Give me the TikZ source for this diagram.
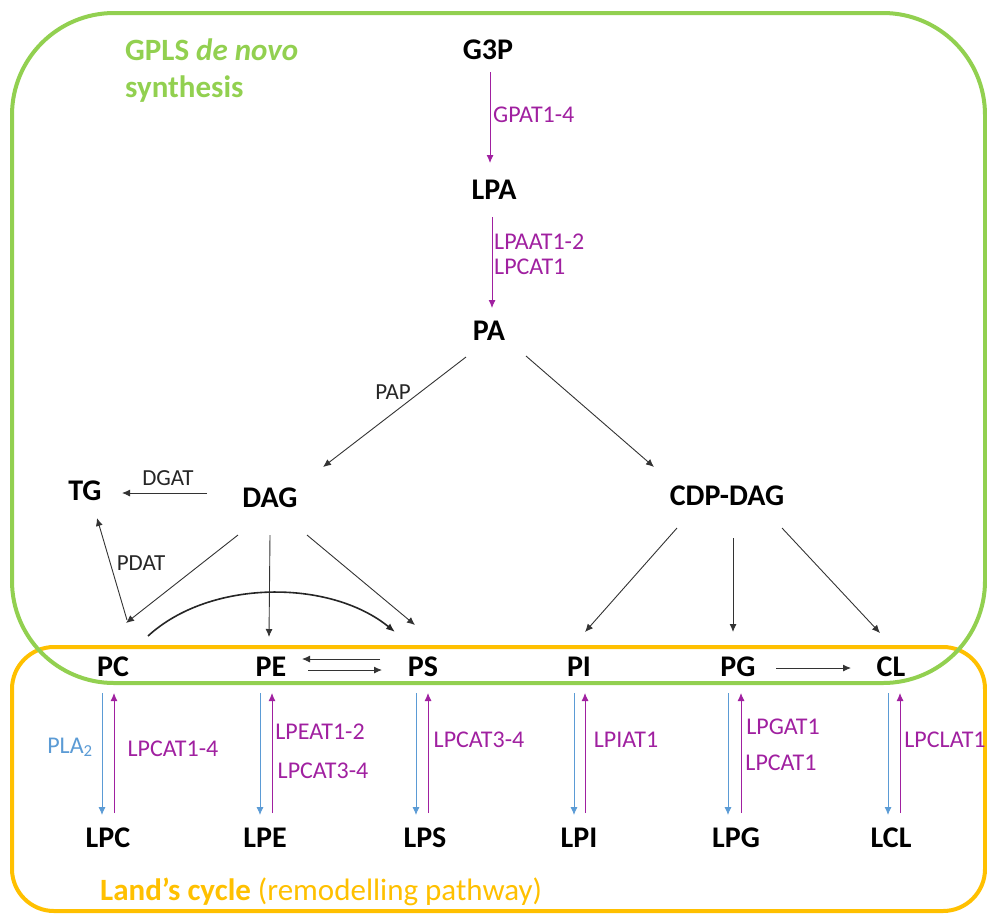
\documentclass[tikz,border=0pt]{standalone}
\usepackage{fontspec}
\setmainfont{Carlito}
\usetikzlibrary{arrows.meta,calc}
\definecolor{gpgreen}{RGB}{146,208,80}
\definecolor{lorange}{RGB}{255,192,0}
\definecolor{purp}{RGB}{160,32,160}
\definecolor{plablue}{RGB}{91,155,213}
\tikzset{
  met/.style={inner sep=0pt,font=\bfseries\fontsize{30}{36}\selectfont},
  enz/.style={inner sep=0pt,font=\fontsize{24}{29}\selectfont,text=purp},
  blk/.style={inner sep=0pt,font=\fontsize{23}{28}\selectfont,text=black!85},
  arr/.style={draw=black!80,line width=0.9pt,-{Latex[length=8pt,width=7pt]}},
  parr/.style={draw=purp,line width=0.9pt,-{Latex[length=8pt,width=7pt]}},
  barr/.style={draw=plablue,line width=0.9pt,-{Latex[length=8pt,width=7pt]}},
}
\newcommand{\remod}[5]{%
  \draw[barr] ($(#1)+(#3,26)$) -- ($(#1 |- #2)+(#3,-23)$);
  \draw[parr] ($(#1 |- #2)+(#4,-25)$) -- ($(#1)+(#4,26)$);
}
\begin{document}
\begin{tikzpicture}[x=1pt,y=-1pt]
\useasboundingbox (0,0) rectangle (987,914);
% boxes
\draw[lorange,line width=4pt,rounded corners=42pt] (12,647) rectangle (985,911);
\draw[gpgreen,line width=4pt,rounded corners=102pt] (12,13) rectangle (985,683);
% titles
\node[anchor=base west,inner sep=0pt,text=gpgreen,font=\bfseries\fontsize{31}{37}\selectfont] (t1) at (125,60) {GPLS \textit{de novo}};
\node[anchor=base west,inner sep=0pt,text=gpgreen,font=\bfseries\fontsize{31}{37}\selectfont] (t2) at (125,97) {synthesis};
\node[anchor=base west,inner sep=0pt,text=lorange,font=\fontsize{31}{37}\selectfont] (t3) at (100,900) {\textbf{Land’s cycle} (remodelling pathway)};
% metabolites
\node[met] (G3P) at (488,50) {G3P};
\node[met] (LPA) at (494,190) {LPA};
\node[met] (PA) at (489,331) {PA};
\node[met] (DAG) at (270,498) {DAG};
\node[met] (CDP) at (727,496) {CDP-DAG};
\node[met] (TG) at (85,491) {TG};
\node[met] (PC) at (113,667) {PC};
\node[met] (PE) at (271,667) {PE};
\node[met] (PS) at (423,667) {PS};
\node[met] (PI) at (579,667) {PI};
\node[met] (PG) at (738,667) {PG};
\node[met] (CL) at (891,667) {CL};
\node[met] (LPC) at (108,838) {LPC};
\node[met] (LPE) at (265,838) {LPE};
\node[met] (LPS) at (425,838) {LPS};
\node[met] (LPI) at (579,838) {LPI};
\node[met] (LPG) at (736,838) {LPG};
\node[met] (LCL) at (891,838) {LCL};
% de novo arrows
\draw[parr] ($(G3P)+(2,22)$) -- ($(LPA)+(-4,-27)$);
\draw[parr] ($(LPA)+(-2,27)$) -- ($(PA)+(3,-23)$);
\node[enz,anchor=west] (e1) at (493,115) {GPAT1-4};
\node[enz,anchor=west] (e2) at (494,242) {LPAAT1-2};
\node[enz,anchor=west] (e3) at (494,267) {LPCAT1};
\draw[arr] ($(PA)+(-23,26)$) -- ($(DAG)+(53,-31)$);
\node[blk] (pap) at (393,392) {PAP};
\draw[arr] ($(PA)+(37,25)$) -- ($(CDP)+(-73,-29)$);
\draw[arr] ($(DAG)+(-63,-5)$) -- ($(TG)+(37,2)$);
\node[blk] (dgat) at (168,478) {DGAT};
\draw[arr] ($(PC)+(14,-47)$) -- ($(TG)+(12,27)$);
\node[blk] (pdat) at (141,563) {PDAT};
\draw[arr] ($(DAG)+(-32,37)$) -- ($(PC)+(13,-44)$);
\draw[arr] ($(DAG)+(0,37)$) -- ($(PE)+(-2,-30)$);
\draw[arr] ($(DAG)+(37,37)$) -- ($(PS)+(-8,-42)$);
\draw[draw=black!85,line width=1.6pt,-{Latex[length=9pt,width=7pt]}] ($(PC)+(35,-31)$) .. controls ($(PC)+(97,-88)$) and ($(PS)+(-93,-88)$) .. ($(PS)+(-28,-35)$);
\draw[arr] ($(PS)+(-43,-8)$) -- ($(PE)+(31,-8)$);
\draw[arr] ($(PE)+(37,3)$) -- ($(PS)+(-41,3)$);
\draw[arr] ($(CDP)+(-50,32)$) -- ($(PI)+(6,-35)$);
\draw[arr] ($(CDP)+(6,42)$) -- ($(PG)+(-5,-35)$);
\draw[arr] ($(CDP)+(55,32)$) -- ($(CL)+(-11,-34)$);
\draw[arr] ($(PG)+(38,1)$) -- ($(CL)+(-40,1)$);
% remodelling
\remod{PC}{LPC}{-11}{1}{}
\remod{PE}{LPE}{-11}{1}{}
\remod{PS}{LPS}{-7}{5}{}
\remod{PI}{LPI}{-5}{6}{}
\remod{PG}{LPG}{-10}{3}{}
\remod{CL}{LCL}{-3}{9}{}
\node[anchor=base,inner sep=0pt,text=plablue,font=\fontsize{24}{29}\selectfont] (pla) at (70,753) {PLA\textsubscript{2}};
\node[enz] (r1) at (173,749) {LPCAT1-4};
\node[enz] (r2) at (320,732) {LPEAT1-2};
\node[enz] (r3) at (323,771) {LPCAT3-4};
\node[enz] (r4) at (479,740) {LPCAT3-4};
\node[enz] (r5) at (626,740) {LPIAT1};
\node[enz] (r6) at (783,727) {LPGAT1};
\node[enz] (r7) at (781,763) {LPCAT1};
\node[enz] (r8) at (945,740) {LPCLAT1};
\end{tikzpicture}
\end{document}
